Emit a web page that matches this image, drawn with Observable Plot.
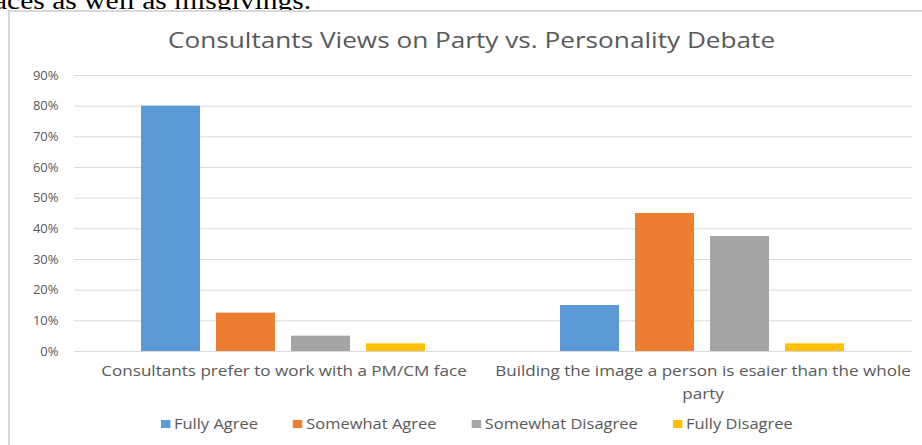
<!DOCTYPE html>
<html>
<head>
<meta charset="utf-8">
<script src="https://cdn.jsdelivr.net/npm/d3@7"></script>
<script src="https://cdn.jsdelivr.net/npm/@observablehq/plot@0.6"></script>
<style>
  html, body { margin: 0; padding: 0; background: #fff; }
  #page { position: relative; width: 922px; height: 445px; overflow: hidden; background: #fff; }
  #above { position: absolute; left: -6px; top: -13px; font-family: "Liberation Serif", serif; font-size: 25px; color: #000; white-space: nowrap; transform-origin: 0 0; transform: scaleX(1.18); }
  #frame { position: absolute; left: 8px; top: 10px; width: 930px; height: 460px; border: 2px solid #d9d9d9; box-sizing: border-box; background: #fff; }
  #title { position: absolute; left: 168px; top: 26px; white-space: nowrap; font-family: "Open Sans", sans-serif; font-size: 21px; color: #595959; transform-origin: 0 0; }
  #chart { position: absolute; left: 0; top: 60px; }
  #legend { position: absolute; left: 161px; top: 414px; display: flex; white-space: nowrap; font-family: "Open Sans", sans-serif; font-size: 14px; color: #595959; transform-origin: 0 0; }
  #legend .item { display: flex; align-items: center; margin-right: 30px; }
  #legend .item:last-child { margin-right: 0; }
  #legend .sw { width: 8px; height: 8px; margin-right: 3px; }
</style>
</head>
<body>
<div id="page">
  <div id="above">aces as well as misgivings.</div>
  <div id="frame"></div>
  <div id="title">Consultants Views on Party vs. Personality Debate</div>
  <div id="chart"></div>
  <div id="legend"></div>
</div>
<script>
const categories = [
  "Consultants prefer to work with a PM/CM face",
  "Building the image a person is esaier than the whole party"
];
const categoryLabels = [
  "Consultants prefer to work with a PM/CM face",
  "Building the image a person is esaier than the whole\nparty"
];
const series = ["Fully Agree", "Somewhat Agree", "Somewhat Disagree", "Fully Disagree"];
const fullyAgree = [0.80, 0.15];
const somewhatAgree = [0.125, 0.45];
const somewhatDisagree = [0.05, 0.375];
const fullyDisagree = [0.025, 0.025];
const yTicks = [0, 0.1, 0.2, 0.3, 0.4, 0.5, 0.6, 0.7, 0.8, 0.9];
const colors = ["#5b9bd5", "#ed7d31", "#a5a5a5", "#ffc000"];

const seriesValues = [fullyAgree, somewhatAgree, somewhatDisagree, fullyDisagree];
const data = categories.flatMap((c, i) =>
  series.map((s, j) => ({category: c, series: s, value: seriesValues[j][i]}))
);
const labelOf = new Map(categories.map((c, i) => [c, categoryLabels[i]]));

const chart = Plot.plot({
  width: 922,
  height: 345,
  marginTop: 15,
  marginBottom: 54,
  marginLeft: 73,
  marginRight: 10,
  style: {fontFamily: "Open Sans, sans-serif", fontSize: "13px", color: "#595959", background: "transparent", overflow: "visible"},
  fx: {domain: categories, padding: 0, label: null, axis: null},
  x: {domain: series, paddingInner: 0.21, paddingOuter: 0.865, axis: null},
  y: {domain: [0, 0.9], label: null, axis: null},
  color: {domain: series, range: colors},
  marks: [
    Plot.gridY(yTicks, {stroke: "#d9d9d9", strokeOpacity: 1, strokeWidth: 1}),
    Plot.axisY(yTicks, {tickFormat: d3.format(".0%"), tickSize: 0, tickPadding: 16, label: null, fill: "#595959"}),
    Plot.barY(data, {fx: "category", x: "series", y: "value", fill: "series"}),
    Plot.text(categories, {fx: d => d, text: d => labelOf.get(d), frameAnchor: "bottom", lineAnchor: "top", dy: 9, lineHeight: 1.6, fontSize: 14, fill: "#595959"})
  ]
});
document.getElementById("chart").appendChild(chart);

// stretch category labels horizontally like the reference
const catTexts = chart.querySelectorAll('g[aria-label="text"] text');
if (catTexts.length) {
  const w0 = catTexts[0].getBBox().width;
  const s = 366 / w0;
  catTexts.forEach(t => {
    const tr = t.getAttribute("transform") || "";
    t.setAttribute("transform", tr + ` scale(${s},1)`);
  });
}

const legend = document.getElementById("legend");
series.forEach((s, i) => {
  const item = document.createElement("div");
  item.className = "item";
  const sw = document.createElement("span");
  sw.className = "sw";
  sw.style.background = colors[i];
  const t = document.createElement("span");
  t.textContent = s;
  item.appendChild(sw);
  item.appendChild(t);
  legend.appendChild(item);
});
legend.style.transform = `scaleX(${632 / legend.scrollWidth})`;

const title = document.getElementById("title");
title.style.transform = `scaleX(${607 / title.scrollWidth})`;
</script>
</body>
</html>
